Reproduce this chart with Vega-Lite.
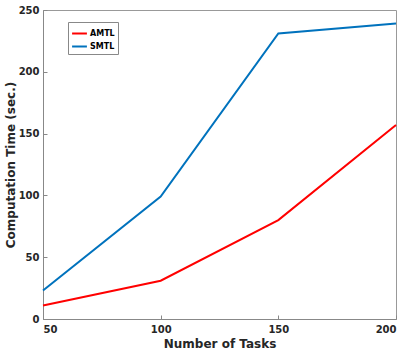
{
  "$schema": "https://vega.github.io/schema/vega-lite/v6.json",
  "width": 353,
  "height": 309,
  "autosize": {"type": "none"},
  "padding": {"left": 43, "top": 10, "right": 10, "bottom": 30},
  "background": "white",
  "config": {
    "font": "DejaVu Sans",
    "view": {"stroke": "#999", "strokeWidth": 1},
    "axis": {
      "labelFont": "DejaVu Sans",
      "labelFontWeight": "bold",
      "labelFontSize": 10,
      "labelColor": "#262626",
      "titleFont": "DejaVu Sans",
      "titleFontWeight": "bold",
      "titleFontSize": 12,
      "titleColor": "#262626",
      "domainColor": "#888",
      "tickColor": "#888",
      "tickSize": -4,
      "grid": false
    }
  },
  "data": {
    "values": [
      {"tasks": 50, "time": 11, "method": "AMTL"},
      {"tasks": 100, "time": 31, "method": "AMTL"},
      {"tasks": 150, "time": 80, "method": "AMTL"},
      {"tasks": 200, "time": 157, "method": "AMTL"},
      {"tasks": 50, "time": 23, "method": "SMTL"},
      {"tasks": 100, "time": 99, "method": "SMTL"},
      {"tasks": 150, "time": 231, "method": "SMTL"},
      {"tasks": 200, "time": 239, "method": "SMTL"}
    ]
  },
  "mark": {"type": "line", "strokeWidth": 2},
  "encoding": {
    "x": {
      "field": "tasks", "type": "quantitative",
      "scale": {"domain": [50, 200], "nice": false, "zero": false},
      "axis": {"values": [50, 100, 150, 200], "title": "Number of Tasks", "labelPadding": 9, "titlePadding": 4}
    },
    "y": {
      "field": "time", "type": "quantitative",
      "scale": {"domain": [0, 250], "nice": false},
      "axis": {"values": [0, 50, 100, 150, 200, 250], "title": "Computation Time (sec.)", "labelPadding": 8, "titlePadding": 1}
    },
    "color": {
      "field": "method", "type": "nominal",
      "scale": {"domain": ["AMTL", "SMTL"], "range": ["#FF0000", "#0072BD"]},
      "legend": {
        "title": null,
        "orient": "none",
        "legendX": 25,
        "legendY": 12,
        "symbolType": "stroke",
        "symbolStrokeWidth": 2,
        "symbolSize": 220,
        "labelFont": "DejaVu Sans",
        "labelFontWeight": "bold",
        "labelFontSize": 8,
        "labelColor": "#000",
        "labelOffset": 2,
        "rowPadding": 0,
        "padding": 3,
        "strokeColor": "#888",
        "fillColor": "white"
      }
    }
  }
}
